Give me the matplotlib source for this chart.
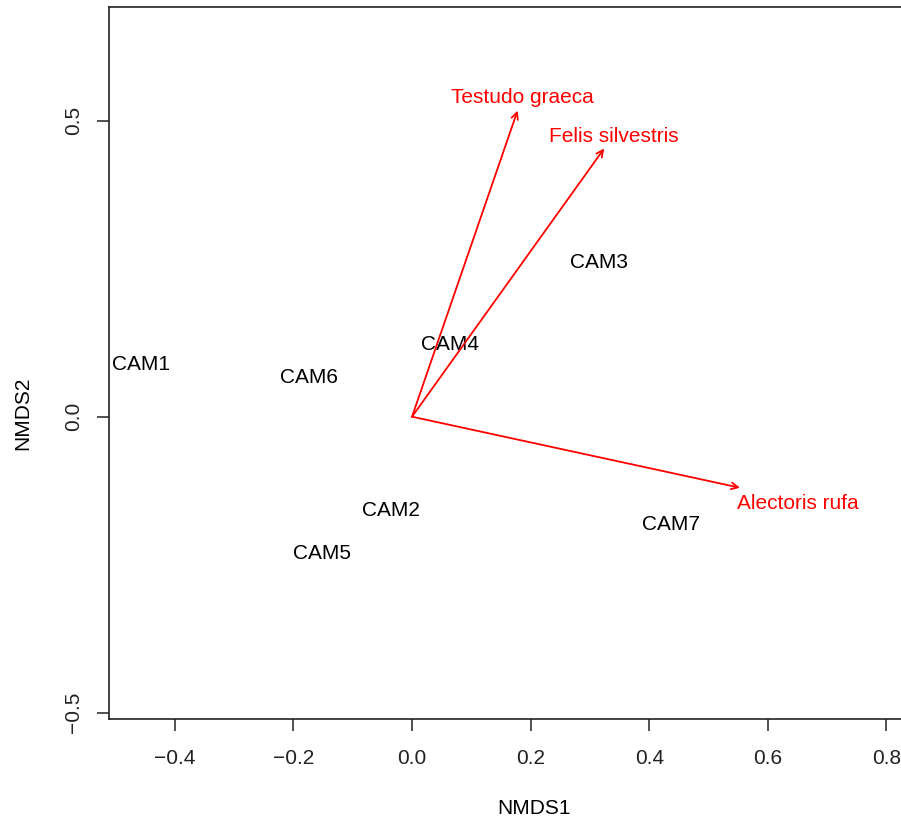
import matplotlib
matplotlib.use("Agg")
import matplotlib.pyplot as plt

plt.rcParams['font.family'] = ['Liberation Sans', 'DejaVu Sans']

# Site scores (NMDS1, NMDS2)
sites = ["CAM1", "CAM2", "CAM3", "CAM4", "CAM5", "CAM6", "CAM7"]
site_x = [-0.457, -0.035, 0.316, 0.064, -0.152, -0.174, 0.437]
site_y = [0.092, -0.155, 0.264, 0.125, -0.227, 0.069, -0.178]

# Species vectors (envfit arrows)
species = ["Testudo graeca", "Felis silvestris", "Alectoris rufa"]
arrow_x = [0.178, 0.324, 0.553]
arrow_y = [0.517, 0.453, -0.120]
label_x = [0.186, 0.340, 0.651]
label_y = [0.542, 0.476, -0.144]

xticks = [-0.4, -0.2, 0.0, 0.2, 0.4, 0.6, 0.8]
yticks = [-0.5, 0.0, 0.5]

W, H = 901, 819
fig = plt.figure(figsize=(W / 100, H / 100), dpi=100)
left, right, bottom, top = 109, 959, 719, 7
ax = fig.add_axes([left / W, 1 - bottom / H, (right - left) / W, (bottom - top) / H])
ax.set_xlim(-0.511, 0.9224)
ax.set_ylim(-0.5106, 0.692)

fs = 15
for name, x, y in zip(sites, site_x, site_y):
    ax.text(x, y, name, ha='center', va='center_baseline', fontsize=fs, color='black')

for name, x, y, lx, ly in zip(species, arrow_x, arrow_y, label_x, label_y):
    ax.annotate('', xy=(x, y), xytext=(0, 0),
                arrowprops=dict(arrowstyle='->', color='#FF0000', lw=1.3,
                                shrinkA=0, shrinkB=0, mutation_scale=12))
    ax.text(lx, ly, name, ha='center', va='center_baseline', fontsize=fs, color='#FF0000')

ax.set_xticks(xticks)
ax.set_xticklabels([f"{t:.1f}".replace('-', '\u2212') for t in xticks])
ax.set_yticks(yticks)
ax.set_yticklabels([f"{t:.1f}".replace('-', '\u2212') for t in yticks], rotation=90, va='center')
ax.tick_params(direction='out', length=8.6, width=1.1, labelsize=fs, colors='#222222')
ax.tick_params(axis='x', pad=13)
ax.tick_params(axis='y', pad=10)
for sp in ax.spines.values():
    sp.set_linewidth(1.2)
    sp.set_color('#222222')

ax.set_xlabel("NMDS1", fontsize=fs)
ax.set_ylabel("NMDS2", fontsize=fs)
ax.xaxis.set_label_coords((534 - left) / (right - left), (bottom - 808) / (bottom - top))
ax.yaxis.set_label_coords((23 - left) / (right - left), (bottom - 413) / (bottom - top))
ax.xaxis.label.set_va('center')
ax.yaxis.label.set_va('center')

fig.savefig("out.png", dpi=100)
